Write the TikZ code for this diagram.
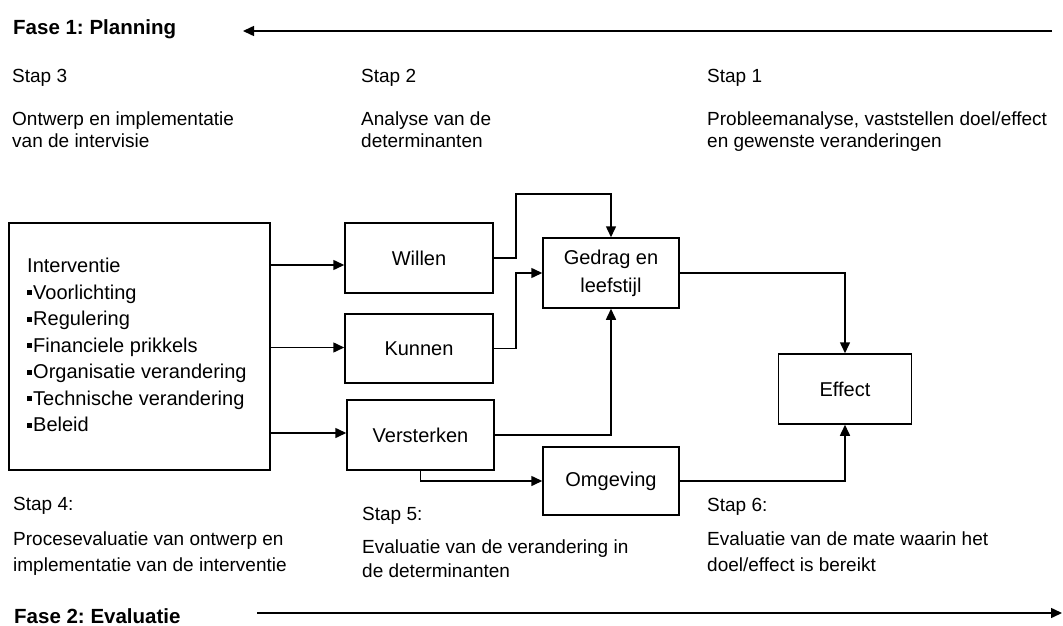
\documentclass[tikz,border=0pt]{standalone}
\usepackage{fontspec}
\setmainfont{Liberation Sans}
\usetikzlibrary{arrows.meta,calc}
\frenchspacing
\newcommand\sqbul{\rule[4pt]{5pt}{5pt}\hspace{1pt}}
\begin{document}
\begin{tikzpicture}[x=1pt,y=-1pt,
  txt/.style={anchor=base west, inner sep=0, font=\fontsize{19}{22}\selectfont},
  fase/.style={anchor=base west, inner sep=0, font=\fontsize{20.5}{22}\selectfont\bfseries},
  box/.style={draw, line width=1.5pt, inner sep=0, font=\fontsize{20}{28}\selectfont, align=center},
  arr/.style={line width=1.5pt, -{Triangle[length=11pt,width=10pt]}}]
\useasboundingbox (0,0) rectangle (1063,626);
% phase headings
\node[fase] (f1) at (13,35) {Fase 1: Planning};
\coordinate (f1s) at (1052,31);
\coordinate (f1e) at (243,31);
\draw[arr] (f1s) -- (f1e);
\node[fase] (f2) at (14,623) {Fase 2: Evaluatie};
\coordinate (f2s) at (257,613);
\coordinate (f2e) at (1062,613);
\draw[arr] (f2s) -- (f2e);
% top texts
\node[txt] (s3) at (12,83) {Stap 3};
\node[txt] (s3a) at (12,125) {Ontwerp en implementatie};
\node[txt] (s3b) at (12,147) {van de intervisie};
\node[txt] (s2) at (361,83) {Stap 2};
\node[txt] (s2a) at (361,125) {Analyse van de};
\node[txt] (s2b) at (361,147) {determinanten};
\node[txt] (s1) at (707,83) {Stap 1};
\node[txt] (s1a) at (707,125) {Probleemanalyse, vaststellen doel/effect};
\node[txt] (s1b) at (707,147) {en gewenste veranderingen};
% bottom texts
\node[txt] (s4) at (13,510) {Stap 4:};
\node[txt] (s4a) at (13,545) {Procesevaluatie van ontwerp en};
\node[txt] (s4b) at (13,571) {implementatie van de interventie};
\node[txt] (s5) at (362,520) {Stap 5:};
\node[txt] (s5a) at (362,553) {Evaluatie van de verandering in};
\node[txt] (s5b) at (362,577) {de determinanten};
\node[txt] (s6) at (707,511) {Stap 6:};
\node[txt] (s6a) at (707,545) {Evaluatie van de mate waarin het};
\node[txt] (s6b) at (707,571) {doel/effect is bereikt};
% boxes
\node[box, minimum width=261pt, minimum height=247pt] (interv) at (139.5,346.5) {};
\node[anchor=north west, inner sep=0, align=left, font=\fontsize{20}{26.5}\selectfont] (ilist) at (27,258)
  {Interventie\\\sqbul Voorlichting\\\sqbul Regulering\\\sqbul Financiele prikkels\\\sqbul Organisatie verandering\\\sqbul Technische verandering\\\sqbul Beleid};
\node[box, minimum width=148pt, minimum height=70pt] (willen) at (419,258) {Willen};
\node[box, minimum width=148pt, minimum height=69pt] (kunnen) at (419,348.5) {Kunnen};
\node[box, minimum width=147pt, minimum height=70pt] (verst) at (420.5,435) {Versterken};
\node[box, minimum width=136pt, minimum height=70pt] (gedrag) at (611,273) {Gedrag en\\leefstijl};
\node[box, minimum width=136pt, minimum height=68pt] (omg) at (611,481) {Omgeving};
\node[box, minimum width=133pt, minimum height=70pt] (effect) at (845,389) {Effect};
% connectors
\draw[arr] ([yshift=-7pt]willen.west -| interv.east) -- ([yshift=-7pt]willen.west);
\draw[arr] ([yshift=1pt]kunnen.west -| interv.east) -- ([yshift=1pt]kunnen.west);
\draw[arr] ([yshift=2pt]verst.west -| interv.east) -- ([yshift=2pt]verst.west);
\draw[arr] (willen.east) -| (516,194) -| (gedrag.north);
\draw[arr] (kunnen.east) -| (516,273) -- (gedrag.west);
\draw[arr] (verst.east) -| (gedrag.south);
\draw[arr] (verst.south) |- (omg.west);
\draw[arr] (gedrag.east) -| (effect.north);
\draw[arr] (omg.east) -| (effect.south);
\end{tikzpicture}
\end{document}
